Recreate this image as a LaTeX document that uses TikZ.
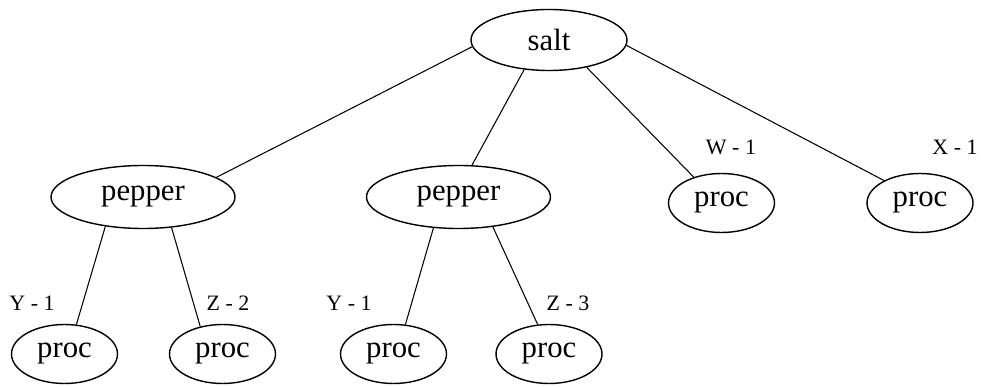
\documentclass[tikz,border=0pt]{standalone}
\usepackage{fontspec}
\setmainfont{Liberation Serif}
\usetikzlibrary{shapes.geometric}
\usetikzlibrary{positioning}

\begin{document}
\begin{tikzpicture}[
    oval/.style={ellipse, draw, line width=0.8pt, inner sep=0pt, font=\fontsize{17.5}{19}\selectfont},
    procbox/.style={oval, minimum width=2.12cm, minimum height=1.18cm},
    pepbox/.style={oval, minimum width=3.68cm, minimum height=1.26cm},
    lbl/.style={inner sep=0pt, font=\fontsize{12.5}{14}\selectfont},
    link/.style={line width=0.6pt}]
  % Fix the size of the picture
  \useasboundingbox (0,0) rectangle (19.62,-7.74);

  % Root
  \node[oval, minimum width=3.12cm, minimum height=1.22cm] (salt) at (10.98,-0.80) {salt};

  % Second row
  \node[pepbox] (pep1) at (2.86,-3.94) {pepper};
  \node[pepbox] (pep2) at (9.17,-3.94) {pepper};
  \node[procbox] (procW) at (14.43,-4.06) {proc};
  \node[procbox] (procX) at (18.40,-4.06) {proc};

  % Bottom row
  \node[procbox] (proc1) at (1.29,-7.08) {proc};
  \node[procbox] (proc2) at (4.45,-7.08) {proc};
  \node[procbox] (proc3) at (7.87,-7.08) {proc};
  \node[procbox] (proc4) at (10.98,-7.08) {proc};

  % Edges
  \draw[link] (salt.185) -- (pep1.15);
  \draw[link] (salt.230) -- (pep2.67);
  \draw[link] (salt.-36) -- (procW.137);
  \draw[link] (salt.-4) -- (procX.148);
  \draw[link] (pep1.-142) -- (proc1.68);
  \draw[link] (pep1.-47) -- (proc2.129);
  \draw[link] (pep2.-129) -- (proc3.68);
  \draw[link] (pep2.-41) -- (proc4.111);

  % Labels
  \node[lbl] (labW) at (14.62,-2.94) {W - 1};
  \node[lbl] (labX) at (19.10,-2.94) {X - 1};
  \node[lbl] (labY1) at (0.64,-6.06) {Y - 1};
  \node[lbl] (labZ2) at (4.56,-6.06) {Z - 2};
  \node[lbl] (labY2) at (6.98,-6.06) {Y - 1};
  \node[lbl] (labZ3) at (11.36,-6.06) {Z - 3};
\end{tikzpicture}
\end{document}
